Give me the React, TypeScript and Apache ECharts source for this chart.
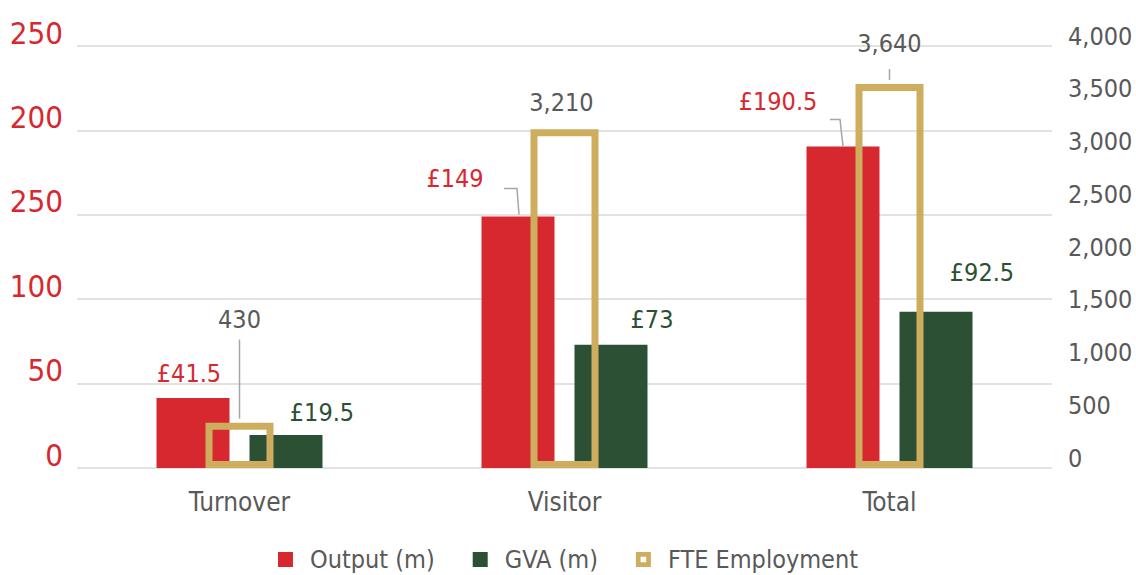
import React, { useEffect, useRef } from 'react';
import * as echarts from 'echarts';

// ---- data ----
const categories = ['Turnover', 'Visitor', 'Total'];
const outputValues = [41.5, 149, 190.5];
const gvaValues = [19.5, 73, 92.5];
const fteValues = [430, 3210, 3640];
const leftTickLabels = ['0', '50', '100', '250', '200', '250'];
const outputLeaderIndexes = [1, 2];
const fteLeaderIndexes = [0, 2];

// ---- positions / styles ----
const FONT = "'Liberation Sans Narrow', 'DejaVu Sans Condensed', 'Roboto', sans-serif";
const RED = '#d7282f';
const GREEN = '#2b5034';
const GOLD = '#cead5f';
const GREY = '#595959';
const LEADER = '#a6a6a6';
const BAR_W = 73;
const BAR_GAP = 20;
const RED_OFFSET = -(BAR_W + BAR_GAP) / 2;
const LABEL_FS = 25;

const outputLabelOffsets = [[-4, -7], [-63, -20], [-65, -27]];
const gvaLabelOffsets = [[36, -5], [41, -8], [46, -22]];
const fteLabelOffsets = [[0, -86], [-3, -9], [0, -23]];

const outputLeaderShapes: Record<number, number[][]> = {
  1: [[-14, -28], [-1, -28], [1, -2]],
  2: [[-13, -27], [-3, -27], [0, 0]],
};
const fteLeaderShapes: Record<number, number[][]> = {
  0: [[0, -83], [0, -4]],
  2: [[0, -15], [0, -4]],
};

const fmt = (v: number) => v.toLocaleString('en-GB');

export default function App() {
  const ref = useRef<HTMLDivElement>(null);
  useEffect(() => {
    document.body.style.margin = '0';
    const chart = echarts.init(ref.current!, undefined, { renderer: 'svg' });

    const leaderSeries = (
      idxs: number[],
      values: number[],
      shapes: Record<number, number[][]>,
      barOffset: number,
      axisIndex: number
    ) => ({
      type: 'custom',
      xAxisIndex: axisIndex,
      yAxisIndex: axisIndex,
      silent: true,
      z: 5,
      data: idxs.map((i) => [i, values[i]]),
      renderItem: (params: any, api: any) => {
        const idx = api.value(0);
        const top = api.coord([idx, api.value(1)]);
        const pts = shapes[idx].map(([dx, dy]) => [top[0] + barOffset + dx, top[1] + dy]);
        return {
          type: 'polyline',
          shape: { points: pts },
          style: { stroke: LEADER, lineWidth: 1.5, fill: 'none' },
        };
      },
    });

    chart.setOption({
      animation: false,
      grid: { left: 77, right: 84, top: 46, bottom: 107, outerBoundsMode: 'none' },
      legend: {
        top: 542,
        left: 'center',
        itemWidth: 15,
        itemHeight: 15,
        itemGap: 38,
        textStyle: { fontSize: 25, color: GREY, fontFamily: FONT, padding: [0, 0, 0, 12] },
        data: [
          { name: 'Output (m)', icon: 'rect' },
          { name: 'GVA (m)', icon: 'rect' },
          {
            name: 'FTE Employment',
            icon: 'path://M0,0H16V16H0Z M5,5V11H11V5Z',
            itemStyle: { color: GOLD, borderWidth: 0 },
          },
        ],
      },
      xAxis: [
        {
          type: 'category',
          data: categories,
          axisLine: { show: false },
          axisTick: { show: false },
          axisLabel: { fontSize: 26, color: GREY, fontFamily: FONT, margin: 21 },
        },
        { type: 'category', data: categories, show: false },
      ],
      yAxis: [
        {
          type: 'value',
          min: 0,
          max: 250,
          interval: 50,
          axisLine: { show: false },
          axisTick: { show: false },
          splitLine: { lineStyle: { color: '#d9d9d9', width: 1.5 } },
          axisLabel: {
            fontSize: 31,
            lineHeight: 27,
            color: RED,
            fontFamily: FONT,
            margin: 14,
            formatter: (v: number) => leftTickLabels[Math.round(v / 50)] + '\n',
          },
        },
        {
          type: 'value',
          min: 0,
          max: 4000,
          interval: 500,
          axisLine: { show: false },
          axisTick: { show: false },
          splitLine: { show: false },
          axisLabel: {
            fontSize: 25,
            lineHeight: 20,
            color: GREY,
            fontFamily: FONT,
            margin: 16,
            formatter: (v: number) => fmt(v) + '\n',
          },
        },
      ],
      series: [
        {
          name: 'Output (m)',
          type: 'bar',
          xAxisIndex: 0,
          yAxisIndex: 0,
          barWidth: BAR_W,
          barGap: (BAR_GAP / BAR_W) * 100 + '%',
          itemStyle: { color: RED },
          label: {
            show: true,
            position: 'top',
            color: RED,
            fontSize: LABEL_FS,
            fontFamily: FONT,
            formatter: (p: any) => '£' + p.value,
          },
          data: outputValues.map((v, i) => ({ value: v, label: { offset: outputLabelOffsets[i] } })),
        },
        {
          name: 'GVA (m)',
          type: 'bar',
          xAxisIndex: 0,
          yAxisIndex: 0,
          barWidth: BAR_W,
          barGap: (BAR_GAP / BAR_W) * 100 + '%',
          itemStyle: { color: GREEN },
          label: {
            show: true,
            position: 'top',
            color: GREEN,
            fontSize: LABEL_FS,
            fontFamily: FONT,
            formatter: (p: any) => '£' + p.value,
          },
          data: gvaValues.map((v, i) => ({ value: v, label: { offset: gvaLabelOffsets[i] } })),
        },
        {
          name: 'FTE Employment',
          type: 'bar',
          xAxisIndex: 1,
          yAxisIndex: 1,
          barWidth: 68,
          z: 4,
          itemStyle: { color: 'rgba(0,0,0,0)', borderColor: GOLD, borderWidth: 7 },
          label: {
            show: true,
            position: 'top',
            color: GREY,
            fontSize: LABEL_FS,
            fontFamily: FONT,
            formatter: (p: any) => fmt(p.value),
          },
          data: fteValues.map((v, i) => ({ value: v, label: { offset: fteLabelOffsets[i] } })),
        },
        leaderSeries(outputLeaderIndexes, outputValues, outputLeaderShapes, RED_OFFSET, 0),
        leaderSeries(fteLeaderIndexes, fteValues, fteLeaderShapes, 0, 1),
      ],
    });
    return () => chart.dispose();
  }, []);
  return <div ref={ref} style={{ width: 1136, height: 575 }} />;
}
